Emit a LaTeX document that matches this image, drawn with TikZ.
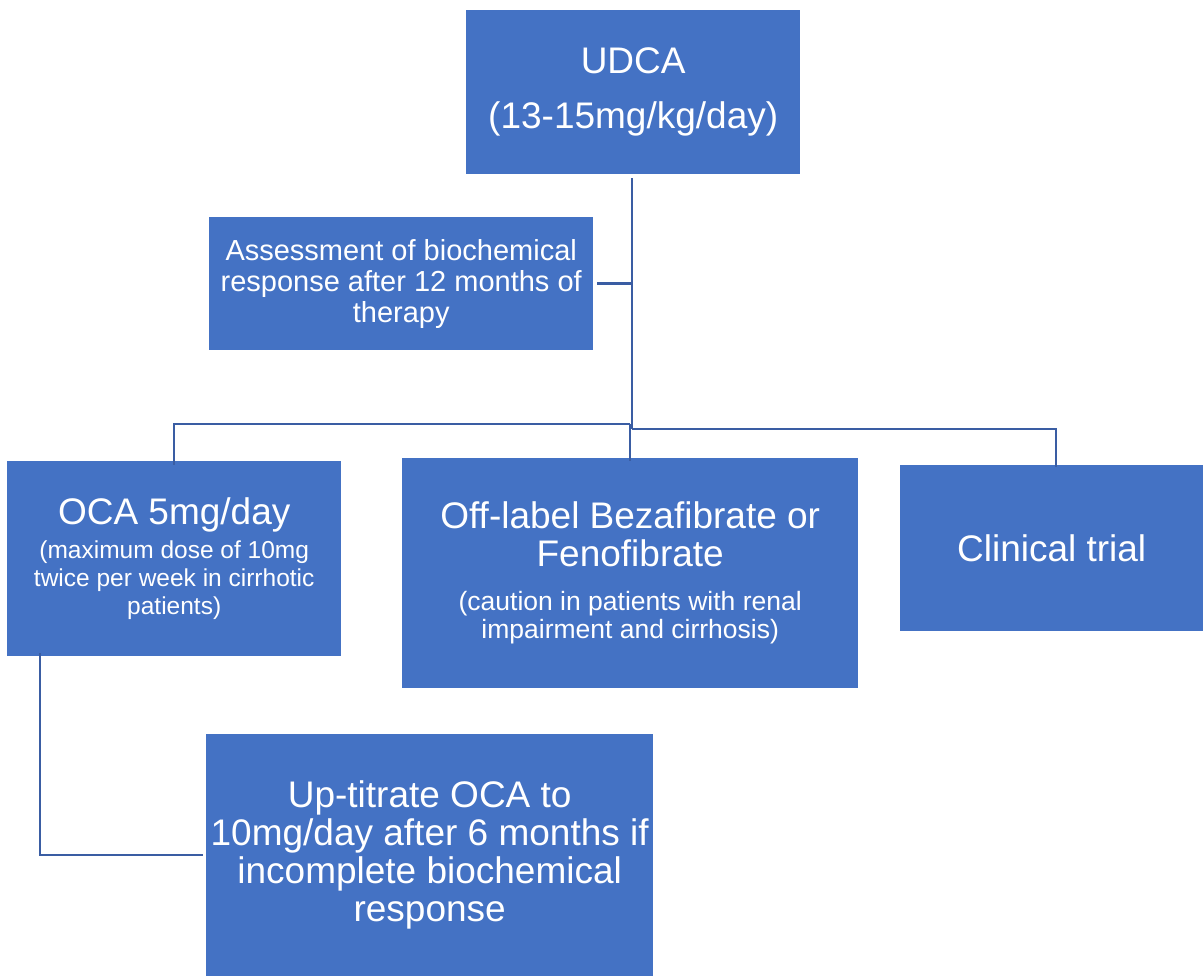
\documentclass[tikz,border=0pt]{standalone}
\usepackage{fontspec}
\setmainfont{Liberation Sans}
\definecolor{boxblue}{HTML}{4472C4}
\definecolor{linkblue}{HTML}{3A5DA3}
\begin{document}
\begin{tikzpicture}[x=1pt,y=-1pt,
  box/.style={fill=boxblue, text=white, inner sep=0pt, align=center, anchor=north west},
  big/.style={font=\fontsize{37}{38}\selectfont},
  link/.style={draw=linkblue, line width=2.8pt}]
\useasboundingbox (0,0) rectangle (1203,976);
\node[box, big, minimum width=334pt, minimum height=164pt] (udca) at (466,10)
  {UDCA\\[17pt](13-15mg/kg/day)\rule[-6pt]{0pt}{6pt}};
\node[box, font=\fontsize{29}{31}\selectfont, minimum width=384pt, minimum height=133pt] (assess) at (209,217)
  {Assessment of biochemical\\response after 12 months of\\therapy};
\node[box, big, minimum width=334pt, minimum height=195pt] (oca) at (7,461)
  {OCA 5mg/day\\[-4pt]{\fontsize{24.5}{28}\selectfont (maximum dose of 10mg}\\[-10pt]{\fontsize{24.5}{28}\selectfont twice per week in cirrhotic}\\[-10pt]{\fontsize{24.5}{28}\selectfont patients)}};
\node[box, big, minimum width=456pt, minimum height=230pt] (fib) at (402,458)
  {Off-label Bezafibrate or\\Fenofibrate\\[6pt]{\fontsize{26.5}{28}\selectfont (caution in patients with renal}\\[-10pt]{\fontsize{26.5}{28}\selectfont impairment and cirrhosis)}};
\node[box, big, minimum width=303pt, minimum height=166pt] (trial) at (900,465)
  {Clinical trial};
\node[box, big, minimum width=447pt, minimum height=242pt] (up) at (206,734)
  {Up-titrate OCA to\\10mg/day after 6 months if\\incomplete biochemical\\response};
\coordinate (j) at (632,429);
\draw[link] ([yshift=-4pt]udca.south -| j) -- (j);
\draw[link] ([xshift=4pt]assess.east) -- (assess.east -| j);
\draw[link] (630,424) -- (174,424) -- ([yshift=-4pt]oca.north -| 174,0);
\draw[link] (630,424) -- ([yshift=-3pt]fib.north -| 630,0);
\draw[link] (j) -- (1056,429) -- ([yshift=-2pt]trial.north -| 1056,0);
\draw[link] ([yshift=3pt]oca.south -| 40,0) -- (40,855) -- ([xshift=-3pt]up.west |- 0,855);
\end{tikzpicture}
\end{document}
